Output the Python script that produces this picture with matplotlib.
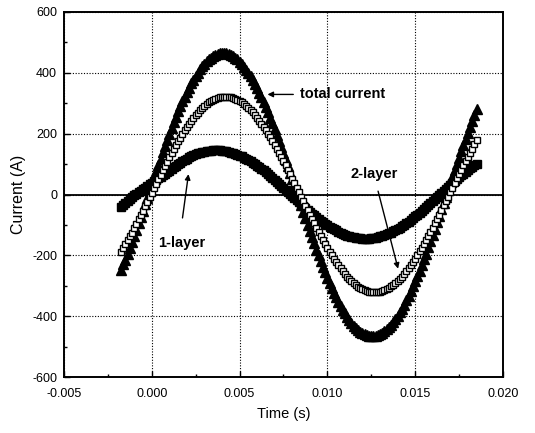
import numpy as np
import matplotlib
matplotlib.use("Agg")
import matplotlib.pyplot as plt
from matplotlib.ticker import MultipleLocator, FormatStrFormatter

plt.rcParams['font.family'] = ['Liberation Sans', 'DejaVu Sans']
plt.rcParams['axes.unicode_minus'] = False

total_current = [
    -248, -230, -216, -197, -177, -157, -137, -116, -95, -74,
    -53, -32, -10, 12, 33, 55, 76, 97, 118, 139,
    159, 179, 199, 218, 237, 255, 273, 290, 306, 322,
    337, 351, 365, 378, 390, 401, 412, 421, 430, 438,
    445, 450, 455, 459, 462, 464, 465, 465, 464, 462,
    459, 455, 450, 444, 437, 429, 420, 410, 400, 388,
    376, 363, 349, 335, 320, 304, 287, 270, 252, 234,
    215, 196, 176, 156, 135, 114, 93, 72, 51, 30,
    8, -14, -35, -57, -78, -99, -120, -141, -161, -181,
    -200, -219, -238, -256, -274, -291, -307, -323, -338, -352,
    -366, -379, -391, -402, -413, -422, -431, -438, -445, -451,
    -456, -459, -462, -464, -465, -465, -464, -461, -458, -454,
    -449, -443, -436, -428, -419, -409, -399, -387, -375, -362,
    -348, -333, -318, -302, -286, -269, -251, -232, -213, -194,
    -174, -154, -134, -113, -92, -71, -49, -28, -7, 15,
    36, 58, 79, 100, 121, 142, 162, 182, 202, 221,
    240, 260, 280,
]

two_layer = [
    -189, -177, -164, -151, -138, -125, -111, -97, -82, -68,
    -53, -39, -24, -9, 6, 21, 36, 51, 65, 80,
    94, 108, 122, 136, 149, 162, 175, 187, 199, 211,
    222, 232, 242, 252, 261, 269, 277, 284, 291, 297,
    303, 307, 311, 315, 318, 320, 321, 322, 322, 321,
    320, 318, 315, 312, 308, 303, 298, 292, 285, 278,
    270, 262, 253, 243, 233, 223, 212, 200, 188, 176,
    163, 150, 137, 124, 110, 96, 81, 67, 52, 37,
    22, 8, -7, -22, -37, -52, -66, -81, -95, -109,
    -123, -137, -150, -163, -176, -188, -200, -212, -223, -233,
    -243, -252, -261, -270, -278, -285, -292, -298, -303, -308,
    -312, -315, -318, -320, -321, -322, -322, -321, -320, -318,
    -315, -311, -307, -302, -297, -291, -285, -278, -270, -261,
    -252, -242, -232, -222, -211, -199, -187, -175, -162, -149,
    -136, -123, -109, -95, -80, -66, -51, -36, -21, -7,
    8, 23, 38, 53, 67, 82, 96, 110, 124, 138,
    151, 166, 180,
]

one_layer = [
    -42, -35, -28, -21, -15, -9, -3, 3, 8, 13,
    18, 23, 28, 33, 38, 43, 48, 53, 58, 63,
    68, 73, 78, 84, 90, 95, 100, 105, 109, 114,
    118, 122, 125, 129, 132, 135, 137, 139, 141, 142,
    143, 144, 145, 145, 145, 145, 144, 143, 142, 140,
    138, 136, 134, 131, 128, 125, 121, 117, 113, 109,
    104, 100, 95, 90, 84, 79, 73, 67, 61, 55,
    48, 42, 36, 29, 22, 16, 9, 3, -4, -11,
    -18, -25, -31, -38, -44, -50, -56, -63, -69, -75,
    -80, -86, -91, -96, -101, -106, -110, -114, -118, -122,
    -126, -129, -132, -135, -137, -139, -141, -142, -143, -144,
    -145, -145, -145, -145, -144, -143, -142, -140, -138, -136,
    -133, -131, -128, -125, -121, -117, -113, -109, -104, -99,
    -94, -89, -84, -78, -72, -66, -60, -54, -48, -42,
    -35, -29, -22, -16, -9, -2, 5, 12, 18, 25,
    31, 38, 44, 51, 57, 63, 69, 75, 80, 86,
    91, 96, 101,
]

# sample times (s): from -0.00175 s, every 0.125 ms
time = np.round(-0.00175 + 0.000125 * np.arange(len(total_current)), 6)

x_ticks = [-0.005, 0.000, 0.005, 0.010, 0.015, 0.020]
y_ticks = [-600, -400, -200, 0, 200, 400, 600]

fig = plt.figure(figsize=(5.35, 4.33), dpi=100)
ax = fig.add_axes([0.1196, 0.1293, 0.8204, 0.8430])

ax.set_xlim(-0.005, 0.020)
ax.set_ylim(-600, 600)

ax.grid(True, which='major', color='black', linestyle=(0, (1, 1.5)), linewidth=0.8)
ax.set_axisbelow(True)
ax.axhline(0, color='black', linewidth=1.3, zorder=1)

ax.plot(time, total_current, linestyle='none', marker='^', markersize=7,
        color='black', zorder=3)
ax.plot(time, one_layer, linestyle='none', marker='s', markersize=6.3,
        color='black', zorder=4)
ax.plot(time, two_layer, linestyle='none', marker='s', markersize=4.8,
        markerfacecolor='white', markeredgecolor='black', markeredgewidth=1.0,
        zorder=5)

ax.set_xticks(x_ticks)
ax.set_yticks(y_ticks)
ax.xaxis.set_minor_locator(MultipleLocator(0.0025))
ax.yaxis.set_minor_locator(MultipleLocator(100))
ax.xaxis.set_major_formatter(FormatStrFormatter('%.3f'))
ax.yaxis.set_major_formatter(FormatStrFormatter('%d'))
ax.tick_params(which='both', direction='in', top=False, right=False,
               labelsize=9, width=1.0)
ax.tick_params(which='major', length=4)
ax.tick_params(axis='x', which='major', pad=8)
ax.tick_params(axis='y', which='major', pad=5)
ax.tick_params(which='minor', length=2.5)
for s in ax.spines.values():
    s.set_linewidth(1.4)

ax.set_xlabel('Time (s)', fontsize=10.5, labelpad=5)
ax.set_ylabel('Current (A)', fontsize=11.5, labelpad=4)

arrow = dict(arrowstyle='-|>', color='black', lw=1.0, mutation_scale=8,
             shrinkA=0, shrinkB=0)
ax.annotate('', xy=(0.00659, 329), xytext=(0.00806, 329), arrowprops=arrow)
ax.text(0.00846, 329, 'total current', fontsize=10.5, fontweight='bold',
        ha='left', va='center')
ax.annotate('', xy=(0.01403, -244), xytext=(0.01289, 11), arrowprops=arrow)
ax.text(0.0113, 67, '2-layer', fontsize=10.5, fontweight='bold',
        ha='left', va='center')
ax.annotate('', xy=(0.00209, 67), xytext=(0.00175, -77), arrowprops=arrow)
ax.text(0.000385, -159, '1-layer', fontsize=10.5, fontweight='bold',
        ha='left', va='center')

fig.savefig('out.png', dpi=100)
